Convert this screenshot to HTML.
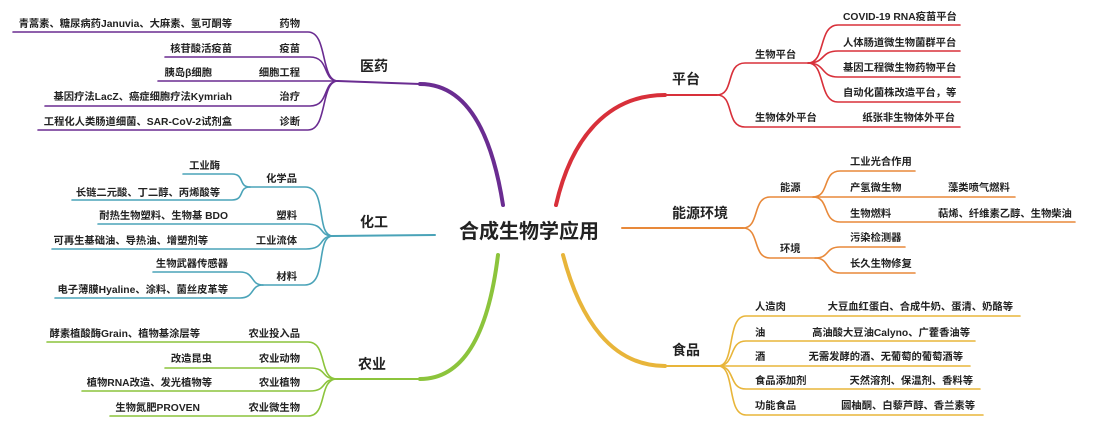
<!DOCTYPE html>
<html><head><meta charset="utf-8"><style>
html,body{margin:0;padding:0;background:#fff;}
svg{display:block;}
text{font-family:"Liberation Sans","Noto Sans CJK SC",sans-serif;font-weight:bold;fill:#222;}
.s{font-size:10.3px;}
.m{font-size:14px;}
</style></head><body>
<svg width="1093" height="439" viewBox="0 0 1093 439" xmlns="http://www.w3.org/2000/svg">
<g fill="none" stroke-linecap="round">
<path d="M503,205 C492,135 468,84 420,84" stroke="#6a2c91" stroke-width="4"/>
<path d="M420,84 L338,81" stroke="#6a2c91" stroke-width="2"/>
<g stroke="#6a2c91" stroke-width="1.6">
<path d="M338,81 C320,81 328,32 308,32 L13,32"/>
<path d="M338,81 C322,81 330,57 310,57 L165,57"/>
<path d="M338,81 L158,81"/>
<path d="M338,81 C322,81 330,106 310,106 L45,106"/>
<path d="M338,81 C320,81 328,130 308,130 L38,130"/>
</g>
<path d="M556,205 C572,135 610,95 665,95" stroke="#d8303a" stroke-width="4"/>
<path d="M665,95 L717,95" stroke="#d8303a" stroke-width="2"/>
<g stroke="#d8303a" stroke-width="1.6">
<path d="M717,95 C735,95 725,63 745,63 L808,63"/>
<path d="M717,95 C735,95 725,127 745,127 L960,127"/>
<path d="M808,63 C826,63 818,25 838,25 L960,25"/>
<path d="M808,63 C826,63 820,51 838,51 L960,51"/>
<path d="M808,63 C826,63 820,77 838,77 L960,77"/>
<path d="M808,63 C826,63 818,102 838,102 L960,102"/>
</g>
<path d="M622,228 L743,228" stroke="#e8893a" stroke-width="2"/>
<g stroke="#e8893a" stroke-width="1.6">
<path d="M743,228 C760,228 752,197 770,197 L813,197"/>
<path d="M743,228 C760,228 752,258 770,258 L815,258"/>
<path d="M813,197 C830,197 822,171 840,171 L915,171"/>
<path d="M813,197 L1015,197"/>
<path d="M813,197 C830,197 822,222 840,222 L1075,222"/>
<path d="M815,258 C830,258 825,247 840,247 L905,247"/>
<path d="M815,258 C830,258 825,273 840,273 L915,273"/>
</g>
<path d="M563,255 C580,320 612,366 665,366" stroke="#e8b53a" stroke-width="4"/>
<path d="M665,366 L718,366" stroke="#e8b53a" stroke-width="2"/>
<g stroke="#e8b53a" stroke-width="1.6">
<path d="M718,366 C736,366 726,316 746,316 L1020,316"/>
<path d="M718,366 C736,366 728,341 746,341 L975,341"/>
<path d="M718,366 L970,366"/>
<path d="M718,366 C736,366 728,389 746,389 L980,389"/>
<path d="M718,366 C736,366 726,415 746,415 L983,415"/>
</g>
<path d="M435,235 L333,236" stroke="#4aa3b8" stroke-width="2"/>
<g stroke="#4aa3b8" stroke-width="1.6">
<path d="M333,236 C315,236 328,187 305,187 L250,187"/>
<path d="M333,236 C318,236 326,224 306,224 L98,224"/>
<path d="M333,236 C318,236 326,249 306,249 L52,249"/>
<path d="M333,236 C315,236 328,285 305,285 L263,285"/>
<path d="M250,187 C238,187 245,174 232,174 L183,174"/>
<path d="M250,187 C238,187 245,200 232,200 L72,200"/>
<path d="M263,285 C250,285 255,272 240,272 L153,272"/>
<path d="M263,285 C250,285 255,298 240,298 L55,298"/>
</g>
<path d="M498,255 C490,320 470,379 420,379" stroke="#8cc43c" stroke-width="4"/>
<path d="M420,379 L337,379" stroke="#8cc43c" stroke-width="2"/>
<g stroke="#8cc43c" stroke-width="1.6">
<path d="M337,379 C318,379 328,342 308,342 L47,342"/>
<path d="M337,379 C320,379 328,368 310,368 L165,368"/>
<path d="M337,379 C320,379 328,391 310,391 L82,391"/>
<path d="M337,379 C318,379 328,416 308,416 L110,416"/>
</g>
</g>

<text x="529" y="238" text-anchor="middle" style="font-size:20px">合成生物学应用</text>

<text class="m" x="360" y="71">医药</text>
<g text-anchor="end">
<text class="s" x="300" y="27">药物</text>
<text class="s" x="232" y="27">青蒿素、糖尿病药Januvia、大麻素、氢可酮等</text>
<text class="s" x="300" y="52">疫苗</text>
<text class="s" x="232" y="52">核苷酸活疫苗</text>
<text class="s" x="300" y="76">细胞工程</text>
<text class="s" x="212" y="76">胰岛β细胞</text>
<text class="s" x="300" y="100">治疗</text>
<text class="s" x="232" y="100">基因疗法LacZ、癌症细胞疗法Kymriah</text>
<text class="s" x="300" y="125">诊断</text>
<text class="s" x="232" y="125">工程化人类肠道细菌、SAR-CoV-2试剂盒</text>
</g>

<text class="m" x="360" y="227">化工</text>
<g text-anchor="end">
<text class="s" x="297" y="182">化学品</text>
<text class="s" x="220" y="169">工业酶</text>
<text class="s" x="220" y="196">长链二元酸、丁二醇、丙烯酸等</text>
<text class="s" x="297" y="219">塑料</text>
<text class="s" x="228" y="219">耐热生物塑料、生物基 BDO</text>
<text class="s" x="297" y="244">工业流体</text>
<text class="s" x="208" y="244">可再生基础油、导热油、增塑剂等</text>
<text class="s" x="297" y="280">材料</text>
<text class="s" x="228" y="267">生物武器传感器</text>
<text class="s" x="228" y="293">电子薄膜Hyaline、涂料、菌丝皮革等</text>
</g>

<text class="m" x="358" y="369">农业</text>
<g text-anchor="end">
<text class="s" x="300" y="337">农业投入品</text>
<text class="s" x="200" y="337">酵素植酸酶Grain、植物基涂层等</text>
<text class="s" x="300" y="362">农业动物</text>
<text class="s" x="212" y="362">改造昆虫</text>
<text class="s" x="300" y="386">农业植物</text>
<text class="s" x="212" y="386">植物RNA改造、发光植物等</text>
<text class="s" x="300" y="411">农业微生物</text>
<text class="s" x="200" y="411">生物氮肥PROVEN</text>
</g>

<text class="m" x="672" y="84">平台</text>
<text class="s" x="755" y="58">生物平台</text>
<text class="s" x="755" y="121">生物体外平台</text>
<text class="s" x="955" y="121" text-anchor="end">纸张非生物体外平台</text>
<text class="s" x="843" y="20">COVID-19 RNA疫苗平台</text>
<text class="s" x="843" y="46">人体肠道微生物菌群平台</text>
<text class="s" x="843" y="71">基因工程微生物药物平台</text>
<text class="s" x="843" y="96">自动化菌株改造平台，等</text>

<text class="m" x="672" y="218">能源环境</text>
<text class="s" x="780" y="191">能源</text>
<text class="s" x="780" y="252">环境</text>
<text class="s" x="850" y="165">工业光合作用</text>
<text class="s" x="850" y="191">产氢微生物</text>
<text class="s" x="948" y="191">藻类喷气燃料</text>
<text class="s" x="850" y="217">生物燃料</text>
<text class="s" x="938" y="217">萜烯、纤维素乙醇、生物柴油</text>
<text class="s" x="850" y="241">污染检测器</text>
<text class="s" x="850" y="267">长久生物修复</text>

<text class="m" x="672" y="355">食品</text>
<text class="s" x="755" y="310">人造肉</text>
<text class="s" x="1013" y="310" text-anchor="end">大豆血红蛋白、合成牛奶、蛋清、奶酪等</text>
<text class="s" x="755" y="336">油</text>
<text class="s" x="970" y="336" text-anchor="end">高油酸大豆油Calyno、广藿香油等</text>
<text class="s" x="755" y="360">酒</text>
<text class="s" x="963" y="360" text-anchor="end">无需发酵的酒、无葡萄的葡萄酒等</text>
<text class="s" x="755" y="384">食品添加剂</text>
<text class="s" x="973" y="384" text-anchor="end">天然溶剂、保温剂、香料等</text>
<text class="s" x="755" y="409">功能食品</text>
<text class="s" x="975" y="409" text-anchor="end">圆柚酮、白藜芦醇、香兰素等</text>
</svg>
</body></html>
